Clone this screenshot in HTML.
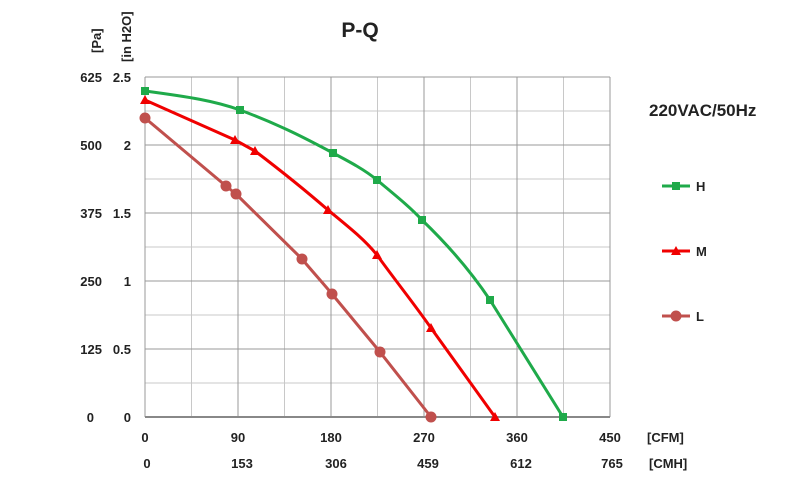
<!DOCTYPE html>
<html><head><style>body{margin:0;background:#fff}svg text{font-family:"Liberation Sans",Arial,sans-serif;font-weight:bold;fill:#222}</style></head><body>
<svg width="810" height="483" viewBox="0 0 810 483" xmlns="http://www.w3.org/2000/svg">
<g stroke="#c8c8c8" stroke-width="1">
<line x1="145" y1="111" x2="610" y2="111"/><line x1="145" y1="179" x2="610" y2="179"/><line x1="145" y1="247" x2="610" y2="247"/><line x1="145" y1="315" x2="610" y2="315"/><line x1="145" y1="383" x2="610" y2="383"/>
<line x1="191.5" y1="77" x2="191.5" y2="417"/><line x1="284.5" y1="77" x2="284.5" y2="417"/><line x1="377.5" y1="77" x2="377.5" y2="417"/><line x1="470.5" y1="77" x2="470.5" y2="417"/><line x1="563.5" y1="77" x2="563.5" y2="417"/>
</g>
<g stroke="#999" stroke-width="1">
<line x1="145" y1="77" x2="610" y2="77"/><line x1="145" y1="145" x2="610" y2="145"/><line x1="145" y1="213" x2="610" y2="213"/><line x1="145" y1="281" x2="610" y2="281"/><line x1="145" y1="349" x2="610" y2="349"/>
<line x1="238" y1="77" x2="238" y2="417"/><line x1="331" y1="77" x2="331" y2="417"/><line x1="424" y1="77" x2="424" y2="417"/><line x1="517" y1="77" x2="517" y2="417"/><line x1="610" y1="77" x2="610" y2="417"/>
<line x1="145" y1="77" x2="145" y2="417"/><line x1="145" y1="417" x2="610" y2="417" stroke="#888" stroke-width="2"/>
</g>
<g fill="none" stroke-width="3" stroke-linejoin="round" stroke-linecap="round">
<path stroke="#1faa4a" d="M145,91 C190,97 215,101 240,110 C280,125 305,138 333,153 C350,162 365,170 377,180 C395,195 410,207 422,220 C448,245 470,270 490,300 C515,340 540,380 563,417"/>
<path stroke="#f00000" d="M145,100 L235,140 L255,151 C280,170 305,190 328,210 C350,228 365,240 377,255 C395,280 415,305 431,328 L495,417"/>
<path stroke="#c0504d" d="M145,118 L226,186 L236,194 L302,259 C312,271 322,282 332,294 L380,352 L431,417"/>
</g>
<g fill="#1faa4a"><rect x="141" y="87" width="8" height="8"/><rect x="236" y="106" width="8" height="8"/><rect x="329" y="149" width="8" height="8"/><rect x="373" y="176" width="8" height="8"/><rect x="418" y="216" width="8" height="8"/><rect x="486" y="296" width="8" height="8"/><rect x="559" y="413" width="8" height="8"/><rect x="672" y="182" width="8" height="8"/></g>
<g fill="#f00000"><path d="M145,95l5,9h-10z"/><path d="M235,135l5,9h-10z"/><path d="M255,146l5,9h-10z"/><path d="M328,205l5,9h-10z"/><path d="M377,250l5,9h-10z"/><path d="M431,323l5,9h-10z"/><path d="M495,412l5,9h-10z"/><path d="M676,246l5,9h-10z"/></g>
<g fill="#c0504d"><circle cx="145" cy="118" r="5.5"/><circle cx="226" cy="186" r="5.5"/><circle cx="236" cy="194" r="5.5"/><circle cx="302" cy="259" r="5.5"/><circle cx="332" cy="294" r="5.5"/><circle cx="380" cy="352" r="5.5"/><circle cx="431" cy="417" r="5.5"/><circle cx="676" cy="316" r="5.5"/></g>
<g stroke-width="3"><line x1="662" y1="186" x2="690" y2="186" stroke="#1faa4a"/><line x1="662" y1="251" x2="690" y2="251" stroke="#f00000"/><line x1="662" y1="316" x2="690" y2="316" stroke="#c0504d"/></g>
<text x="696" y="191" font-size="13">H</text><text x="696" y="256" font-size="13">M</text><text x="696" y="321" font-size="13">L</text>
<text x="649" y="116" font-size="17">220VAC/50Hz</text>
<text x="360" y="37" font-size="21" text-anchor="middle">P-Q</text>
<text transform="translate(101,53) rotate(-90)" font-size="13">[Pa]</text>
<text transform="translate(131,62) rotate(-90)" font-size="13">[in H2O]</text>
<g font-size="13" text-anchor="end">
<text x="102" y="82">625</text><text x="131" y="82">2.5</text>
<text x="102" y="150">500</text><text x="131" y="150">2</text>
<text x="102" y="218">375</text><text x="131" y="218">1.5</text>
<text x="102" y="286">250</text><text x="131" y="286">1</text>
<text x="102" y="354">125</text><text x="131" y="354">0.5</text>
<text x="94" y="422">0</text><text x="131" y="422">0</text>
</g>
<g font-size="13" text-anchor="middle">
<text x="145" y="442">0</text><text x="238" y="442">90</text><text x="331" y="442">180</text><text x="424" y="442">270</text><text x="517" y="442">360</text><text x="610" y="442">450</text>
<text x="147" y="468">0</text><text x="242" y="468">153</text><text x="336" y="468">306</text><text x="428" y="468">459</text><text x="521" y="468">612</text><text x="612" y="468">765</text>
</g>
<text x="647" y="442" font-size="13">[CFM]</text><text x="649" y="468" font-size="13">[CMH]</text>
</svg>
</body></html>
